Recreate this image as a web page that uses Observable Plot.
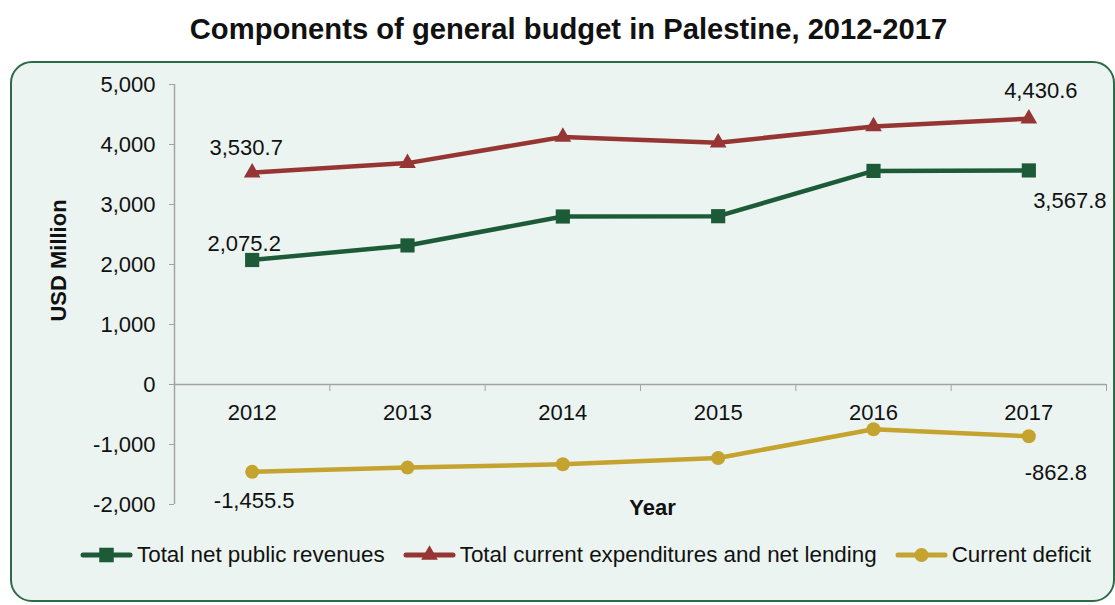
<!DOCTYPE html>
<html>
<head>
<meta charset="utf-8">
<script src="https://cdn.jsdelivr.net/npm/d3@7"></script>
<script src="https://cdn.jsdelivr.net/npm/@observablehq/plot@0.6"></script>
<style>
  html, body { margin: 0; padding: 0; background: #ffffff; }
  body { width: 1115px; height: 605px; overflow: hidden; position: relative;
         font-family: "Liberation Sans", Arial, Helvetica, sans-serif; color: #111; }
  #title { position: absolute; left: 11px; top: 11px; width: 1115px; text-align: center;
           font-weight: bold; font-size: 29.2px; line-height: 36px; color: #111; }
  #panel { position: absolute; left: 10px; top: 61px; width: 1101px; height: 537px;
           border: 2px solid #2d6a47; border-radius: 22px; background: #ebf4f0; }
  #chart { position: absolute; left: 0; top: 61px; }
  #legend { position: absolute; left: 80px; top: 541px; height: 28px; display: flex;
            align-items: center; font-size: 22.4px; color: #111; white-space: nowrap; }
  .item { display: flex; align-items: center; margin-right: 18px; }
  .item svg { margin-right: 4px; }
</style>
</head>
<body>
<div id="title">Components of general budget in Palestine, 2012-2017</div>
<div id="panel"></div>
<div id="chart"></div>
<div id="legend"></div>
<script>
// ---- data ----
const years = [2012, 2013, 2014, 2015, 2016, 2017];
const seriesNames = ["Total net public revenues", "Total current expenditures and net lending", "Current deficit"];
const revenues = [2075.2, 2318, 2800, 2805, 3560, 3567.8];
const expenditures = [3530.7, 3690, 4125, 4030, 4300, 4430.6];
const deficit = [-1455.5, -1385, -1330, -1225, -745, -862.8];
const yTicks = [-2000, -1000, 0, 1000, 2000, 3000, 4000, 5000];

const seriesValues = [revenues, expenditures, deficit];
const colors = ["#1d5b38", "#963634", "#c4a32e"];
const symbols = ["square", "triangle", "circle"];
const radii = [8, 6.2, 7];

const rows = [];
seriesNames.forEach((s, i) => years.forEach((yr, j) => rows.push({series: s, si: i, year: yr, yi: j, value: seriesValues[i][j]})));

const boundaries = years.map(y => y + 0.5);
const locale = d3.formatLocale({decimal: ".", thousands: ",", grouping: [3], currency: ["$", ""], minus: "-"});
const fmt = locale.format(",.1f");
const tickFmt = locale.format(",");

function label(si, yi, dx, dy) {
  return Plot.text(rows.filter(d => d.si === si && d.yi === yi), {
    x: "year", y: "value", text: d => fmt(d.value), dx, dy,
    fill: "#111", fontSize: 22, lineAnchor: "middle", textAnchor: "middle"
  });
}

const marks = [
  // axis lines
  Plot.ruleX([years[0] - 0.5], {y1: yTicks[0], y2: yTicks[yTicks.length - 1], stroke: "#a3a3a3", strokeWidth: 1.5}),
  Plot.ruleY([0], {stroke: "#a3a3a3", strokeWidth: 1.5}),
  Plot.axisY({ticks: yTicks, tickSize: 5, tickPadding: 14, tickFormat: tickFmt, label: null,
              fontSize: 22, stroke: "#a3a3a3", fill: "#111"}),
  Plot.axisX({anchor: "bottom", ticks: boundaries, tickSize: 7, tickFormat: () => "", label: null,
              dy: -120, stroke: "#a3a3a3"}),
  Plot.text(years, {x: d => d, y: () => 0, text: d => String(d), dy: 28, fontSize: 22, fill: "#111", lineAnchor: "middle"}),
  Plot.text(["USD Million"], {frameAnchor: "left", textAnchor: "middle", rotate: -90, dx: -116, dy: -34, fontSize: 22, fontWeight: "bold", fill: "#111"}),
  Plot.text(["Year"], {frameAnchor: "bottom", dx: 12, dy: 3, fontSize: 22, fontWeight: "bold", fill: "#111", lineAnchor: "middle"}),
];

seriesNames.forEach((s, i) => {
  const data = rows.filter(d => d.si === i);
  marks.push(Plot.line(data, {x: "year", y: "value", stroke: colors[i], strokeWidth: 4.5, strokeLinejoin: "round"}));
  marks.push(Plot.dot(data, {x: "year", y: "value", symbol: symbols[i], r: radii[i], fill: colors[i], stroke: "none"}));
});

marks.push(
  label(1, 0, -6, -25),
  label(0, 0, -8, -16),
  label(1, 5, 12, -28),
  label(0, 5, 41, 31),
  label(2, 0, 2, 29),
  label(2, 5, 27, 37)
);

const chart = Plot.plot({
  width: 1115, height: 480,
  marginTop: 23, marginBottom: 37, marginLeft: 174, marginRight: 9,
  x: {type: "linear", domain: [years[0] - 0.5, years[years.length - 1] + 0.5], axis: null},
  y: {domain: [yTicks[0], yTicks[yTicks.length - 1]], axis: null},
  style: {background: "transparent", fontFamily: "'Liberation Sans', Arial, Helvetica, sans-serif", fontSize: "22px", color: "#111"},
  marks
});
document.getElementById("chart").appendChild(chart);

// ---- legend ----
const legend = document.getElementById("legend");
seriesNames.forEach((s, i) => {
  const item = document.createElement("div");
  item.className = "item";
  const svg = d3.create("svg").attr("width", 53).attr("height", 20);
  svg.append("line").attr("x1", 3).attr("x2", 50).attr("y1", 10).attr("y2", 10)
    .attr("stroke", colors[i]).attr("stroke-width", 5).attr("stroke-linecap", "round");
  svg.append("path").attr("transform", "translate(26.5,10)")
    .attr("d", d3.symbol(i === 0 ? d3.symbolSquare : i === 1 ? d3.symbolTriangle : d3.symbolCircle,
                         Math.PI * radii[i] * radii[i] * (i === 0 ? 1.05 : 1))())
    .attr("fill", colors[i]);
  item.appendChild(svg.node());
  const t = document.createElement("span");
  t.textContent = s;
  item.appendChild(t);
  legend.appendChild(item);
});
</script>
</body>
</html>
